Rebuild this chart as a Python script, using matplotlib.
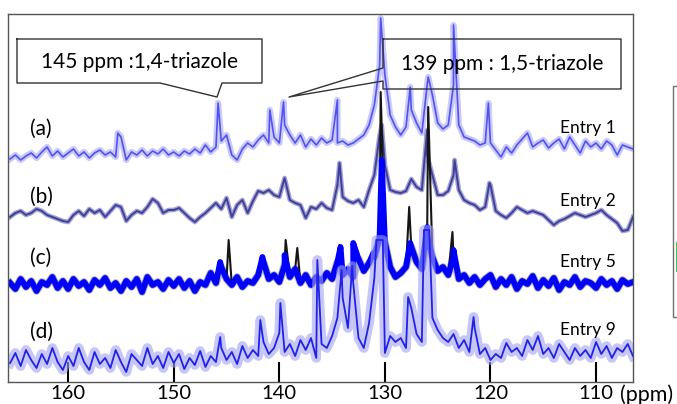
import numpy as np
import matplotlib
matplotlib.use("Agg")
import matplotlib.pyplot as plt
from matplotlib.transforms import Affine2D
from matplotlib.lines import Line2D

plt.rcParams['font.family'] = ['Lato', 'DejaVu Sans']

# chemical shift grid, 0.5 ppm steps from 165.5 down to 106.5
ppm = np.linspace(165.5, 106.5, 119)

# (a) Entry 1 - trace read every 0.5 ppm (rows: 165.5-160.5, then 10 ppm blocks)
a_trace = [6, 10, 5, 9, 12, 7, 13, 18, 9, 14, 8,
           12, 16, 9, 13, 7, 12, 15, 10, 13, 8, 28, 5, 13, 10, 15, 9, 14, 11, 16, 10,
           13, 9, 14, 11, 16, 12, 20, 13, 18, 24, 30, 10, 5, 16, 22, 18, 25, 30, 22, 28,
           22, 40, 30, 22, 30, 18, 26, 20, 27, 22, 25, 22, 24, 20, 22, 26, 30, 40, 60, 100,
           90, 50, 38, 30, 38, 55, 42, 32, 80, 70, 42, 36, 40, 80, 40, 28, 26, 24, 20, 22,
           22, 15, 8, 18, 12, 20, 26, 32, 18, 22, 25, 17, 22, 26, 16, 28, 20, 12, 24, 18,
           22, 16, 24, 20, 10, 20, 18, 16]
a_peak_ppm = [155.3, 145.8, 140.9, 139.6, 134.5, 130.4, 127.6, 125.9, 123.5, 120.2]
a_peak_int = [32, 62, 55, 63, 65, 147, 78, 88, 140, 62]

# (b) Entry 2
b_trace = [8, 12, 14, 10, 12, 16, 14, 10, 8, 6, 4,
           3, 10, 14, 9, 16, 12, 15, 8, 14, 20, 18, 4, 10, 14, 12, 18, 26, 22, 12, 15,
           15, 17, 12, 7, 3, 8, 12, 17, 22, 16, 27, 8, 20, 25, 12, 24, 34, 32, 35, 30,
           28, 47, 25, 22, 20, 7, 18, 16, 22, 17, 15, 40, 28, 24, 22, 25, 18, 35, 50, 90,
           60, 35, 33, 32, 34, 46, 38, 35, 70, 50, 30, 30, 34, 50, 35, 25, 22, 20, 15, 18,
           40, 14, 10, 7, 12, 18, 15, 12, 14, 12, 10, 5, 0, 4, 6, 9, 12, 10, 8, 10,
           12, 15, 10, 6, 2, -6, -5, 8]
b_peak_ppm = [134.3, 130.3, 126.0, 123.4, 120.1]
b_peak_int = [62, 100, 95, 65, 42]

# (c) Entry 5 - blue trace with black trace underneath
c_trace = [14, 8, 18, 10, 16, 6, 15, 12, 20, 9, 16,
           8, 18, 11, 15, 7, 17, 12, 19, 9, 14, 6, 16, 10, 18, 5, 20, 12, 15, 8, 17,
           11, 18, 9, 16, 6, 15, 12, 24, 14, 30, 18, 12, 20, 10, 16, 14, 22, 35, 18, 22,
           15, 32, 20, 28, 14, 22, 12, 20, 16, 24, 18, 35, 22, 28, 20, 38, 26, 34, 40, 60,
           55, 30, 20, 24, 30, 50, 35, 28, 60, 40, 26, 30, 22, 40, 18, 22, 14, 20, 12, 18,
           22, 10, 18, 12, 20, 8, 16, 13, 21, 9, 17, 11, 19, 7, 15, 12, 20, 10, 16, 14,
           9, 18, 12, 16, 8, 17, 13, 15]
c_peak_ppm = [145.6, 141.6, 139.5, 134.2, 133.0, 131.1, 130.3, 127.6, 126.0, 123.5]
c_peak_int = [35, 40, 42, 50, 54, 44, 137, 54, 70, 47]
c_black_ppm = [144.8, 139.4, 138.3, 134.3, 132.9, 130.4, 127.7, 125.9, 123.6]
c_black_int = [57, 57, 49, 52, 54, 205, 90, 190, 65]

# (d) Entry 9
d_trace = [15, 25, 12, 28, 18, 10, 24, 14, 30, 16, 8,
           22, 12, 30, 16, 8, 26, 14, 20, 10, 28, 16, 6, 24, 18, 12, 30, 14, 22, 10, 26,
           15, 24, 9, 20, 13, 27, 11, 22, 16, 30, 18, 26, 14, 32, 20, 28, 22, 36, 24, 30,
           45, 26, 34, 22, 38, 28, 40, 20, 34, 30, 42, 60, 80, 50, 95, 40, 30, 55, 100, 138,
           25, 42, 36, 40, 30, 70, 44, 36, 148, 60, 48, 40, 36, 44, 30, 38, 26, 50, 24, 30,
           18, 24, 20, 35, 26, 30, 22, 38, 28, 42, 24, 30, 20, 34, 26, 18, 30, 22, 28, 20,
           36, 24, 32, 20, 30, 26, 34, 22]
d_peak_ppm = [145.6, 141.8, 139.9, 136.4, 134.1, 133.1, 130.8, 130.2, 127.8, 126.3, 125.8, 121.6]
d_peak_int = [41, 58, 75, 118, 108, 112, 138, 138, 81, 148, 148, 61]

x_ticks = [160, 150, 140, 130, 120, 110]
trace_labels = ['(a)', '(b)', '(c)', '(d)']
entry_labels = ['Entry 1', 'Entry 2', 'Entry 5', 'Entry 9']


def merge(trace, pk_ppm, pk_int):
    x = np.concatenate([ppm, pk_ppm])
    y = np.concatenate([trace, pk_int])
    order = np.argsort(-x)
    return x[order], y[order]


W, H = 677, 404
fig = plt.figure(figsize=(W / 100, H / 100), dpi=100)
ax = fig.add_axes([8 / W, 1 - 382 / H, 625 / W, 368 / H])
# pixel transform for the labels and callouts
pix = Affine2D().scale(1 / W, -1 / H).translate(0, 1) + fig.transFigure

# vertical offsets of the stacked spectra
off_a, off_b, off_c, off_d = 217, 157, 85, 4

x, y = merge(a_trace, a_peak_ppm, a_peak_int)
ax.plot(x, y + off_a, color='#bcbcfa', lw=4.5, alpha=0.8)
ax.plot(x, y + off_a, color='#5252ee', lw=1.2)

x, y = merge(b_trace, b_peak_ppm, b_peak_int)
ax.plot(x, y + off_b, color='#a4a4d6', lw=3.4)
ax.plot(x, y + off_b, color='#40409a', lw=1.4)

# grey fuzz only along the baseline trace, thin black line carries the spikes
ax.plot(ppm, np.array(c_trace) + off_c, color='#555555', lw=5.5, alpha=0.45)
x, y = merge(c_trace, c_black_ppm, c_black_int)
ax.plot(x, y + off_c, color='#151515', lw=1.5)
x, y = merge(c_trace, c_peak_ppm, c_peak_int)
ax.plot(x, y + off_c, color='#0000ff', lw=4.2)

x, y = merge(d_trace, d_peak_ppm, d_peak_int)
ax.plot(x, y + off_d, color='#a0a0f5', lw=7.0, alpha=0.6)
ax.plot(x, y + off_d, color='#2222e6', lw=1.3)

ax.set_xlim(165.7, 106.5)
ax.set_ylim(0, 368)
ax.set_yticks([])
ax.set_xticks(x_ticks)
ax.set_xticklabels([str(t) for t in x_ticks])
ax.tick_params(axis='x', direction='in', length=14.4, width=1.5, pad=2,
               labelsize=14.5, color='black')
for s in ax.spines.values():
    s.set_color('#555555')
    s.set_linewidth(1.0)

fig.text(620, 395, '(ppm)', transform=pix, fontsize=15.5, va='center', ha='left')

for lab, yy in zip(trace_labels, [129, 197, 258, 332]):
    fig.text(30, yy, lab, transform=pix, fontsize=15, va='center', ha='left')
for lab, yy in zip(entry_labels, [128, 201, 262, 330]):
    fig.text(616, yy, lab, transform=pix, fontsize=12.5, va='center', ha='right')

# callout boxes
box1 = [(17, 39), (262, 39), (262, 83), (222, 83), (217, 97), (160, 83), (17, 83), (17, 39)]
box2 = [(383, 39), (621, 39), (621, 89), (383, 89), (383, 81), (289, 97), (383, 68), (383, 39)]
for b in (box1, box2):
    xs, ys = zip(*b)
    fig.add_artist(Line2D(xs, ys, transform=pix, color='#333333', lw=1.0))
fig.text(139.5, 62, '145 ppm :1,4-triazole', transform=pix, fontsize=15,
         va='center', ha='center')
fig.text(502, 64, '139 ppm : 1,5-triazole', transform=pix, fontsize=15,
         va='center', ha='center')

# edge of the neighbouring panel on the right
fig.add_artist(Line2D([690, 673, 673, 690], [86, 86, 317, 317], transform=pix,
                      color='#707070', lw=1.0))
fig.add_artist(Line2D([676.5, 676.5], [243, 270], transform=pix, color='#22bb44', lw=2))

fig.savefig('out.png', dpi=100)
